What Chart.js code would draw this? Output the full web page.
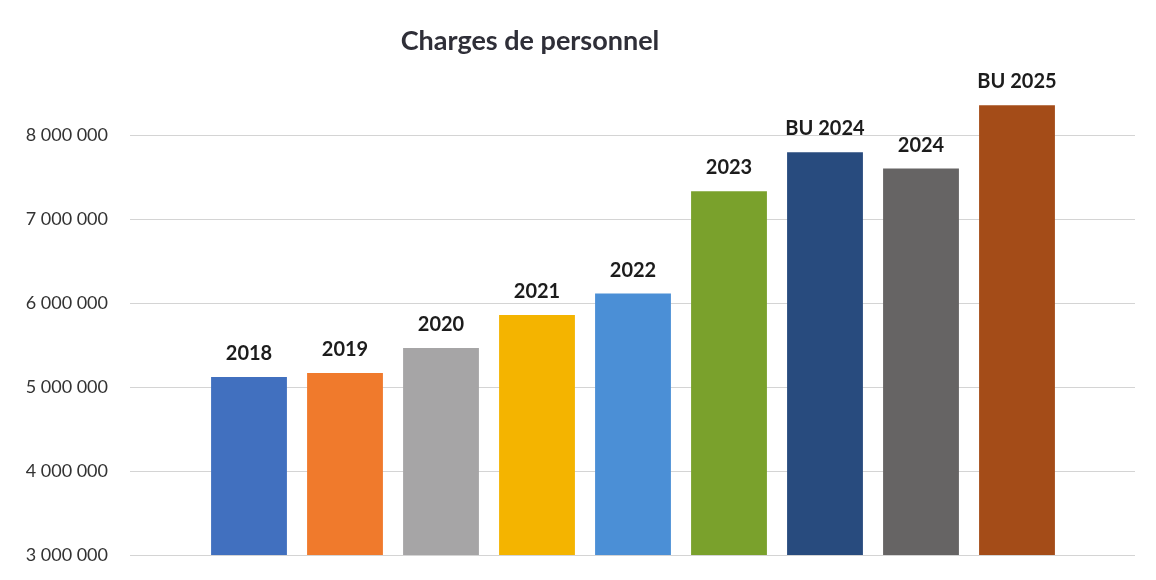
<!DOCTYPE html>
<html>
<head>
<meta charset="utf-8">
<script src="https://cdn.jsdelivr.net/npm/chart.js@4.4.1/dist/chart.umd.min.js"></script>
<style>
  html, body { margin: 0; padding: 0; background: #ffffff; }
  #wrap { width: 1156px; height: 580px; }
</style>
</head>
<body>
<div id="wrap"><canvas id="c" width="1156" height="580"></canvas></div>
<script>
const chartTitle = 'Charges de personnel';
const categories = ['2018', '2019', '2020', '2021', '2022', '2023', 'BU 2024', '2024', 'BU 2025'];
const values = [5120000, 5170000, 5465000, 5860000, 6115000, 7335000, 7800000, 7605000, 8360000];
const barColors = ['#4170bf', '#f07a2c', '#a6a5a6', '#f4b400', '#4b8fd6', '#7aa12c', '#284b7e', '#666464', '#a44c18'];
const yTicks = [3000000, 4000000, 5000000, 6000000, 7000000, 8000000];
const yMin = 3000000;
const yMax = 8600000;

function fmt(v) {
  return String(v).replace(/\B(?=(\d{3})+(?!\d))/g, ' ');
}

const keepTicks = (scale) => {
  scale.ticks = yTicks.map(v => ({ value: v }));
};

const barLabels = {
  id: 'barLabels',
  afterDatasetsDraw(chart) {
    const ctx = chart.ctx;
    const meta = chart.getDatasetMeta(0);
    ctx.save();
    ctx.font = 'bold 20px Lato';
    ctx.fillStyle = '#1c1c1c';
    ctx.textAlign = 'center';
    ctx.textBaseline = 'alphabetic';
    meta.data.forEach((bar, i) => {
      ctx.fillText(categories[i], bar.x, bar.y - 17);
    });
    ctx.restore();
  }
};

const titlePlugin = {
  id: 'titlePlugin',
  afterDraw(chart) {
    const ctx = chart.ctx;
    ctx.save();
    ctx.font = 'bold 27px Lato';
    ctx.fillStyle = '#2f2f38';
    ctx.textAlign = 'center';
    ctx.textBaseline = 'alphabetic';
    ctx.fillText(chartTitle, 530, 50);
    ctx.restore();
  }
};

new Chart(document.getElementById('c'), {
  type: 'bar',
  data: {
    labels: categories,
    datasets: [{
      data: values,
      backgroundColor: barColors,
      borderWidth: 0,
      categoryPercentage: 1.0,
      barPercentage: 0.79
    }]
  },
  options: {
    responsive: false,
    animation: false,
    layout: { autoPadding: false, padding: { top: 85, bottom: 25, left: 0, right: 0 } },
    plugins: {
      legend: { display: false },
      title: { display: false },
      tooltip: { enabled: false }
    },
    scales: {
      x: { display: false },
      y: {
        position: 'left',
        min: yMin,
        max: yMax,
        afterBuildTicks: keepTicks,
        afterFit(scale) { scale.width = 201; scale.paddingTop = 0; scale.paddingBottom = 0; },
        border: { display: false },
        grid: { color: '#d4d4d4', lineWidth: 1, drawTicks: true, tickLength: 71 },
        ticks: {
          padding: 22,
          color: '#333333',
          font: { family: 'Lato', size: 18 },
          callback: (v) => fmt(v)
        }
      },
      y2: {
        position: 'right',
        min: yMin,
        max: yMax,
        afterBuildTicks: keepTicks,
        afterFit(scale) { scale.width = 91; scale.paddingTop = 0; scale.paddingBottom = 0; },
        border: { display: false },
        grid: { color: '#d4d4d4', lineWidth: 1, drawOnChartArea: false, drawTicks: true, tickLength: 70 },
        ticks: { display: false }
      }
    }
  },
  plugins: [barLabels, titlePlugin]
});
</script>
</body>
</html>
